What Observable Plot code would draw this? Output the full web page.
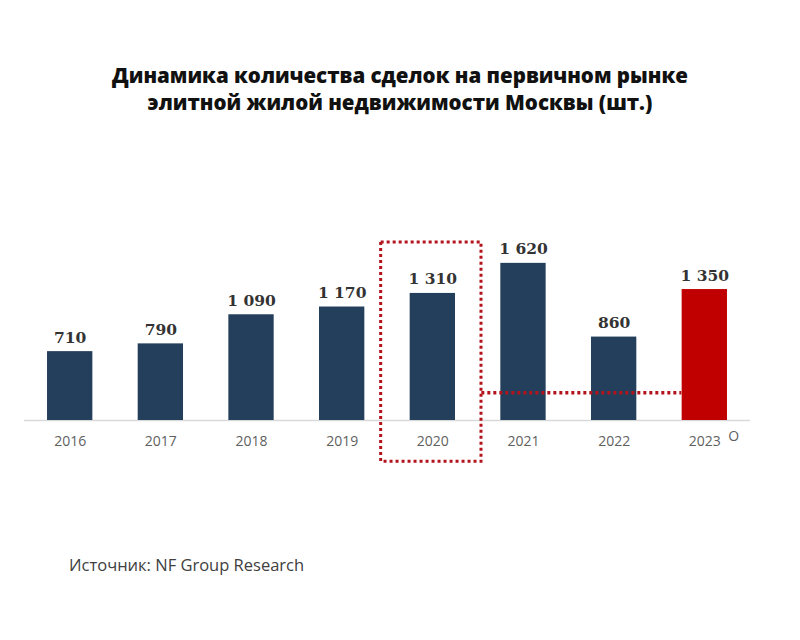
<!DOCTYPE html>
<html>
<head>
<meta charset="utf-8">
<script src="https://cdn.jsdelivr.net/npm/d3@7"></script>
<script src="https://cdn.jsdelivr.net/npm/@observablehq/plot@0.6"></script>
<style>
  html, body { margin: 0; padding: 0; background: #fff; width: 800px; height: 640px; overflow: hidden; }
  #title { position: absolute; top: 62px; left: 0; width: 800px; text-align: center;
    font-family: "Open Sans", sans-serif; font-weight: 800; font-size: 20.5px; line-height: 27px; color: #111; }
  #chart { position: absolute; top: 180px; left: 0; }
  #source { position: absolute; top: 553px; left: 69px; font-family: "Open Sans", sans-serif;
    font-size: 16.5px; color: #404040; }
</style>
</head>
<body>
<div id="title">Динамика количества сделок на первичном рынке<br>элитной жилой недвижимости Москвы (шт.)</div>
<div id="chart"></div>
<div id="source">Источник: NF Group Research</div>
<script>
const years = ["2016", "2017", "2018", "2019", "2020", "2021", "2022", "2023"];
const deals = [710, 790, 1090, 1170, 1310, 1620, 860, 1350];
const labels = ["710", "790", "1 090", "1 170", "1 310", "1 620", "860", "1 350"];
const highlightYear = "2020";
const highlightRange = [-425, 1835];
const refLevel = 285;
const refYears = ["2021", "2022"];
const noteLabel = "O";

const data = years.map((y, i) => ({year: y, value: deals[i], label: labels[i], last: y === "2023"}));

const chart = Plot.plot({
  width: 800,
  height: 300,
  marginTop: 46,
  marginBottom: 60,
  marginLeft: 24,
  marginRight: 50,
  x: {domain: years, round: false, paddingInner: 0.5, paddingOuter: 0.254, label: null, tickSize: 0, tickPadding: 16},
  y: {domain: [0, 2000], axis: null},
  style: {fontFamily: "Open Sans, sans-serif", fontSize: "14px", color: "#5f5f5f", background: "#fff"},
  marks: [
    Plot.ruleY([0], {stroke: "#d9d9d9", strokeWidth: 1.5}),
    Plot.barY(data, {x: "year", y: "value", fill: d => d.last ? "#c00000" : "#243f5c"}),
    Plot.text(data, {x: "year", y: "value", text: "label", lineAnchor: "bottom", dy: -9,
      fontFamily: "DejaVu Serif, serif", fontWeight: "bold", fontSize: 15.5, fill: "#333"}),
    Plot.barY([{year: highlightYear, y1: highlightRange[0], y2: highlightRange[1]}],
      {x: "year", y1: "y1", y2: "y2", fill: "none", stroke: "#b3141c", strokeWidth: 3,
       strokeDasharray: "3 3", insetLeft: -29, insetRight: -26}),
    Plot.ruleY([{v: refLevel, x1: refYears[0], x2: refYears[1]}],
      {y: "v", x1: "x1", x2: "x2", stroke: "#b3141c", strokeWidth: 3.5, strokeDasharray: "3 3",
       insetLeft: -19, insetRight: -45}),
    Plot.text([noteLabel], {x: () => "2023", y: () => 0, text: d => d, dx: 29, dy: 16,
      fontSize: 14, fill: "#5f5f5f"})
  ]
});
document.getElementById("chart").appendChild(chart);
</script>
</body>
</html>
